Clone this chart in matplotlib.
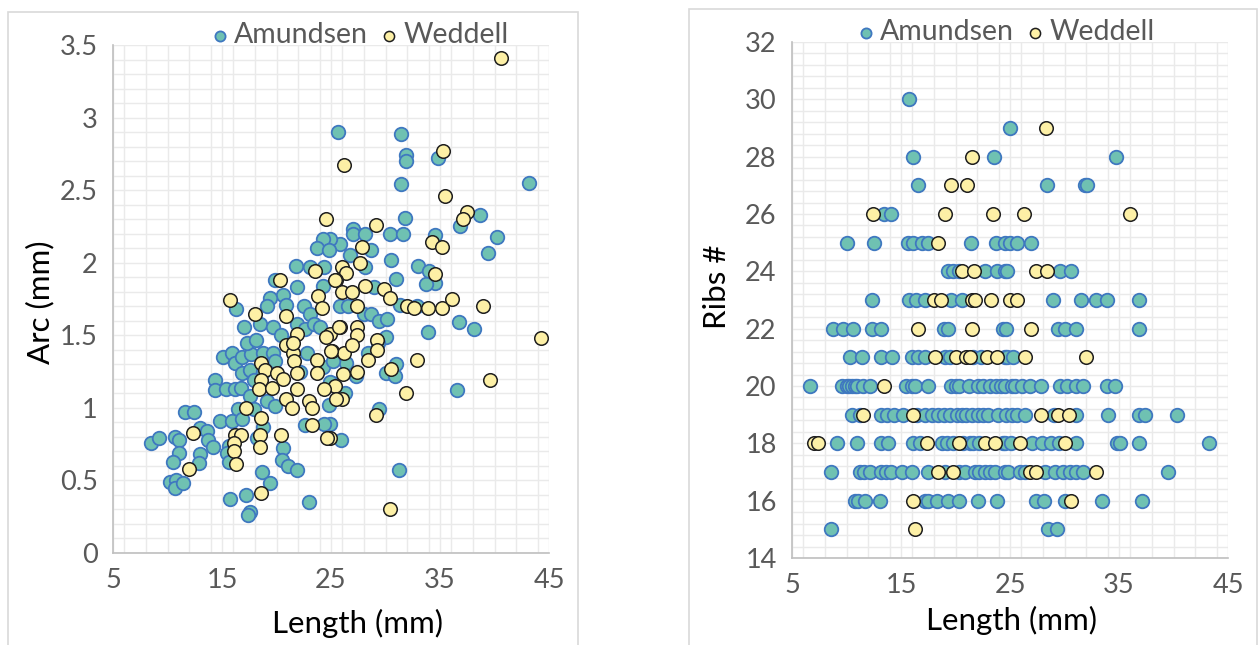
import matplotlib
matplotlib.use("Agg")
import matplotlib.pyplot as plt
from matplotlib.patches import Rectangle
from matplotlib.ticker import MultipleLocator, FixedLocator

plt.rcParams['font.family'] = ['Lato', 'DejaVu Sans']

# ---- Arc vs length -------------------------------------------------------
amundsen_len_arc = [
    25.6, 31.4, 31.9, 31.9, 34.8, 31.4, 43.2, 31.8, 36.8, 38.7, 40.2, 39.4,
    27.0, 27.0, 28.1, 30.4, 31.6, 25.8, 24.9, 28.7, 26.7, 28.1, 30.5, 34.5,
    33.0, 34.0, 34.5, 33.7, 31.0, 28.9, 31.3, 32.9, 36.7, 38.1, 33.9, 25.8,
    26.6, 28.0, 28.7, 29.4, 30.1, 30.0, 29.3, 28.4, 26.4, 31.0, 30.0, 30.9,
    27.3, 25.1, 26.3, 36.6, 29.4, 24.9, 25.9, 31.2,
    24.3, 23.7, 24.8, 21.8, 23.1, 24.4, 19.9, 21.9, 24.3, 20.6, 19.4, 16.3,
    19.1, 20.9, 22.5, 23.1, 17.0, 18.5, 19.7, 21.9, 22.6, 23.4, 24.0, 15.1,
    15.9, 16.2, 16.8, 17.7, 18.8, 19.7, 19.9, 22.8, 24.3, 25.2, 16.8, 17.6,
    17.9, 14.4, 14.4, 15.4, 16.2, 16.7, 17.6, 24.9, 24.8, 19.1, 19.9, 17.9,
    16.5, 11.6, 12.4, 14.8, 15.9, 16.8, 22.6, 24.4, 18.8, 13.0, 13.6, 10.7,
    11.1, 13.7, 14.2, 8.5, 9.2, 11.1, 10.5, 13.0, 12.9, 10.2, 10.8, 10.7,
    11.4, 15.6, 15.5, 15.6, 18.2, 20.6, 20.5, 21.1, 21.9, 18.7, 19.4, 15.7,
    17.2, 17.6, 17.4, 23.0, 18.8, 21.2, 22.2, 20.4, 17.3, 18.1,
]
amundsen_arc = [
    2.90, 2.89, 2.74, 2.70, 2.72, 2.54, 2.55, 2.31, 2.25, 2.33, 2.18, 2.07,
    2.23, 2.20, 2.20, 2.20, 2.20, 2.13, 2.16, 2.09, 2.05, 1.97, 2.02, 2.19,
    1.98, 1.94, 1.86, 1.85, 1.89, 1.83, 1.71, 1.70, 1.59, 1.54, 1.52, 1.70,
    1.70, 1.65, 1.65, 1.60, 1.61, 1.49, 1.45, 1.38, 1.31, 1.30, 1.24, 1.22,
    1.22, 1.17, 1.10, 1.12, 0.99, 0.89, 0.78, 0.57,
    2.16, 2.10, 2.09, 1.98, 1.97, 1.97, 1.88, 1.83, 1.84, 1.78, 1.76, 1.68,
    1.70, 1.71, 1.70, 1.65, 1.56, 1.58, 1.56, 1.58, 1.54, 1.58, 1.56, 1.35,
    1.38, 1.31, 1.35, 1.37, 1.38, 1.38, 1.32, 1.38, 1.28, 1.32, 1.24, 1.26,
    1.19, 1.19, 1.12, 1.13, 1.13, 1.14, 1.08, 1.18, 1.02, 1.05, 1.01, 0.99,
    0.99, 0.97, 0.97, 0.91, 0.91, 0.92, 0.88, 0.89, 0.87, 0.86, 0.84, 0.80,
    0.78, 0.78, 0.73, 0.76, 0.79, 0.69, 0.63, 0.68, 0.62, 0.49, 0.50, 0.45,
    0.48, 0.74, 0.69, 0.63, 0.79, 0.72, 0.64, 0.60, 0.57, 0.56, 0.48, 0.37,
    0.40, 0.28, 0.26, 0.35, 1.25, 1.45, 1.25, 1.50, 1.45, 1.47,
]
weddell_len_arc = [
    40.6, 35.3, 26.2, 35.5, 37.5, 37.1, 29.1, 27.8, 27.7, 34.3, 35.2, 34.5,
    26.0, 26.4, 25.5, 26.0, 26.9, 28.1, 29.9, 30.4, 32.0, 32.6, 33.9, 35.2,
    36.1, 38.9, 44.3, 27.4, 25.8, 27.4, 27.4, 29.2, 29.2, 28.4, 24.9, 25.1,
    26.2, 26.9, 32.9, 30.5, 27.4, 26.1, 25.4, 26.0, 39.6, 31.9, 29.1, 30.4,
    24.9,
    24.5, 23.5, 25.4, 20.3, 23.8, 24.2, 15.7, 18.0, 20.9, 21.9, 25.7, 20.9,
    21.5, 21.6, 24.5, 25.0, 18.6, 18.9, 20.0, 20.6, 23.7, 23.7, 18.6, 18.4,
    19.6, 20.9, 21.4, 21.9, 23.0, 23.3, 24.4, 25.5, 17.2, 18.6, 23.3, 24.6,
    12.3, 12.0, 16.2, 16.7, 16.1, 16.1, 16.3, 18.5, 18.5, 20.4, 18.6, 21.5,
    21.9,
]
weddell_arc = [
    3.41, 2.77, 2.67, 2.46, 2.35, 2.30, 2.26, 2.11, 2.00, 2.14, 2.11, 1.92,
    1.97, 1.93, 1.88, 1.80, 1.80, 1.84, 1.82, 1.76, 1.70, 1.69, 1.69, 1.69,
    1.75, 1.70, 1.48, 1.56, 1.56, 1.50, 1.70, 1.47, 1.40, 1.33, 1.51, 1.39,
    1.38, 1.43, 1.33, 1.27, 1.25, 1.23, 1.15, 1.06, 1.19, 1.10, 0.95, 0.30,
    0.79,
    2.30, 1.94, 1.88, 1.88, 1.77, 1.69, 1.74, 1.65, 1.63, 1.51, 1.56, 1.43,
    1.38, 1.32, 1.49, 1.39, 1.31, 1.26, 1.24, 1.20, 1.33, 1.24, 1.19, 1.13,
    1.14, 1.06, 1.00, 1.13, 1.05, 1.00, 1.13, 1.06, 1.00, 0.93, 0.88, 0.79,
    0.83, 0.58, 0.81, 0.81, 0.76, 0.70, 0.61, 0.81, 0.73, 0.81, 0.41, 1.45,
    1.24,
]

# ---- Ribs vs length ------------------------------------------------------
amundsen_len_ribs = [
    15.7,
    25.0,
    16.1, 23.5, 34.7,
    16.6, 28.4, 31.9, 32.1,
    13.4, 14.1,
    10.0, 12.5, 15.6, 16.1, 16.9, 17.5, 21.4, 23.7, 24.5, 25.0, 25.6, 26.9,
    19.3, 19.8, 20.3, 22.7, 23.8, 24.5, 24.7, 29.6, 30.6,
    12.3, 15.7, 16.4, 17.2, 19.6, 20.6, 28.9, 31.5, 32.9, 33.9, 36.8,
    8.8, 9.7, 10.6, 12.3, 13.2, 18.9, 19.3, 24.4, 24.6, 29.4, 30.0, 31.1, 36.8,
    10.3, 11.4, 13.2, 14.2, 16.0, 16.6, 17.2, 19.0, 19.5, 21.6, 22.3, 24.5,
    24.7, 25.3,
    6.65, 9.6, 10.0, 10.2, 10.5, 10.8, 11.0, 11.5, 12.2, 15.5, 16.0, 16.3,
    17.5, 19.6, 20.0, 20.3, 21.2, 22.1, 22.5, 23.2, 23.7, 24.2, 24.5, 25.2,
    25.5, 26.1, 26.8, 27.8, 29.6, 30.2, 31.1, 31.7, 33.9, 34.6,
    10.5, 11.2, 13.2, 13.7, 14.4, 15.2, 16.5, 17.2, 17.8, 18.4, 18.9, 19.5,
    20.1, 20.6, 21.0, 21.5, 22.1, 22.5, 23.0, 23.9, 24.6, 25.2, 25.6, 26.4,
    29.0, 31.1, 34.0, 36.8, 37.4, 40.3,
    9.1, 11.0, 13.2, 13.8, 16.1, 16.7, 18.8, 19.2, 19.8, 20.7, 21.3, 21.6,
    22.2, 24.4, 24.5, 25.1, 27.0, 27.9, 28.8, 29.5, 31.1, 34.8, 35.1, 36.8,
    43.3,
    8.6, 11.2, 11.6, 12.2, 13.2, 13.6, 14.1, 15.1, 16.0, 17.5, 19.0, 20.3,
    20.9, 21.8, 22.2, 22.7, 23.2, 23.6, 24.5, 24.8, 25.9, 26.4, 28.2, 29.1,
    29.9, 30.5, 31.1, 31.7, 39.5,
    10.8, 11.1, 11.7, 13.1, 17.2, 17.5, 18.3, 19.3, 20.3, 22.1, 23.8, 27.4,
    28.1, 30.0, 33.4, 37.1,
    8.6, 28.5, 29.3,
]
amundsen_ribs = (
    [30] * 1 + [29] * 1 + [28] * 3 + [27] * 4 + [26] * 2 + [25] * 12 +
    [24] * 9 + [23] * 11 + [22] * 13 + [21] * 14 + [20] * 34 + [19] * 30 +
    [18] * 25 + [17] * 29 + [16] * 16 + [15] * 3
)

weddell_len_ribs = [
    28.3,
    21.5,
    19.6, 21.1,
    12.46, 19.0, 23.4, 26.3, 36.0,
    18.4,
    20.6, 21.7, 27.4, 28.4,
    18.0, 18.7, 21.5, 21.8, 23.3, 25.0, 25.6,
    16.6, 21.5, 26.9,
    18.1, 20.0, 21.0, 21.3, 22.9, 23.8, 26.4, 32.0,
    13.4,
    11.5, 16.1, 27.8, 29.4, 30.4,
    7.0, 7.4, 17.4, 20.3, 22.7, 23.6, 25.9, 30.0,
    18.4, 19.8, 26.8, 27.4, 32.9,
    16.1, 30.6,
    16.3,
]
weddell_ribs = (
    [29] * 1 + [28] * 1 + [27] * 2 + [26] * 5 + [25] * 1 + [24] * 4 +
    [23] * 7 + [22] * 3 + [21] * 8 + [20] * 1 + [19] * 5 + [18] * 8 +
    [17] * 5 + [16] * 2 + [15] * 1
)

series_names = ["Amundsen", "Weddell"]
length_ticks = [5, 15, 25, 35, 45]

# ---- styling -------------------------------------------------------------
A_FACE, A_EDGE = "#6FC1B2", "#3F78C0"
W_FACE, W_EDGE = "#FDF0A6", "#1E1E1E"
TICK_COLOR = "#595959"
GRID_COLOR = "#EAEAEA"
SPINE_COLOR = "#BFBFBF"
FRAME_COLOR = "#D9D9D9"
TICK_SIZE = 19.5
LABEL_SIZE = 22.5
LEGEND_SIZE = 20.5

W_PX, H_PX = 1260, 645
fig = plt.figure(figsize=(W_PX / 100, H_PX / 100), dpi=100)


def fx(px):
    return px / W_PX


def fy(py):
    return 1 - py / H_PX


# chart frames
for (x0, y0, x1, y1) in [(8, 12, 578, 652), (689, 9, 1257, 652)]:
    fig.patches.append(Rectangle((fx(x0), fy(y1)), fx(x1 - x0), fy(y0) - fy(y1),
                                 transform=fig.transFigure, fill=False,
                                 edgecolor=FRAME_COLOR, linewidth=1.2, zorder=0))


def style_axes(ax, ymin, ymax, ymajor, yminor):
    ax.set_xlim(length_ticks[0], length_ticks[-1])
    ax.set_ylim(ymin, ymax)
    ax.xaxis.set_major_locator(FixedLocator(length_ticks))
    ax.xaxis.set_minor_locator(MultipleLocator(2))
    ax.yaxis.set_major_locator(MultipleLocator(ymajor))
    ax.yaxis.set_minor_locator(MultipleLocator(yminor))
    ax.grid(which="both", color=GRID_COLOR, linewidth=1.0, zorder=0)
    ax.set_axisbelow(True)
    for s in ("top", "right"):
        ax.spines[s].set_visible(False)
    for s in ("left", "bottom"):
        ax.spines[s].set_color(SPINE_COLOR)
        ax.spines[s].set_linewidth(1.2)
    ax.tick_params(which="both", length=0, labelsize=TICK_SIZE, colors=TICK_COLOR)
    ax.tick_params(axis="y", pad=11)
    ax.tick_params(axis="x", pad=11)


def draw(ax, ax_x, ax_y, bx, by):
    ax.scatter(ax_x, ax_y, s=95, facecolor=A_FACE, edgecolor=A_EDGE,
               linewidth=1.3, zorder=3, label=series_names[0])
    ax.scatter(bx, by, s=95, facecolor=W_FACE, edgecolor=W_EDGE,
               linewidth=1.1, zorder=4, label=series_names[1])


# left panel
ax1 = fig.add_axes([fx(113), fy(553), fx(549 - 113), fy(45) - fy(553)])
draw(ax1, amundsen_len_arc, amundsen_arc, weddell_len_arc, weddell_arc)
style_axes(ax1, 0, 3.5, 0.5, 0.1)
ax1.yaxis.set_major_formatter(plt.FuncFormatter(lambda v, p: f"{v:g}"))
ax1.set_xlabel("Length (mm)", fontsize=LABEL_SIZE, va="center")
ax1.xaxis.set_label_coords(fx(357), fy(623), transform=fig.transFigure)
ax1.set_ylabel("Arc (mm)", fontsize=LABEL_SIZE, va="center")
ax1.yaxis.set_label_coords(fx(40), fy(302), transform=fig.transFigure)

# right panel
ax2 = fig.add_axes([fx(792), fy(558), fx(1228 - 792), fy(42) - fy(558)])
draw(ax2, amundsen_len_ribs, amundsen_ribs, weddell_len_ribs, weddell_ribs)
style_axes(ax2, 14, 32, 2, 0.4)
ax2.set_xlabel("Length (mm)", fontsize=LABEL_SIZE, va="center")
ax2.xaxis.set_label_coords(fx(1012), fy(620), transform=fig.transFigure)
ax2.set_ylabel("Ribs #", fontsize=LABEL_SIZE, va="center")
ax2.yaxis.set_label_coords(fx(717), fy(287), transform=fig.transFigure)

for ax, cx, cy in [(ax1, 360, 35), (ax2, 1006, 32)]:
    ax.legend(loc="center", bbox_to_anchor=(fx(cx), fy(cy)),
              bbox_transform=fig.transFigure, ncol=2, frameon=False,
              fontsize=LEGEND_SIZE, markerscale=0.75, handlelength=0.6,
              handletextpad=0.2, columnspacing=0.45, borderpad=0,
              labelcolor=TICK_COLOR)

fig.savefig("out.png", dpi=100)
